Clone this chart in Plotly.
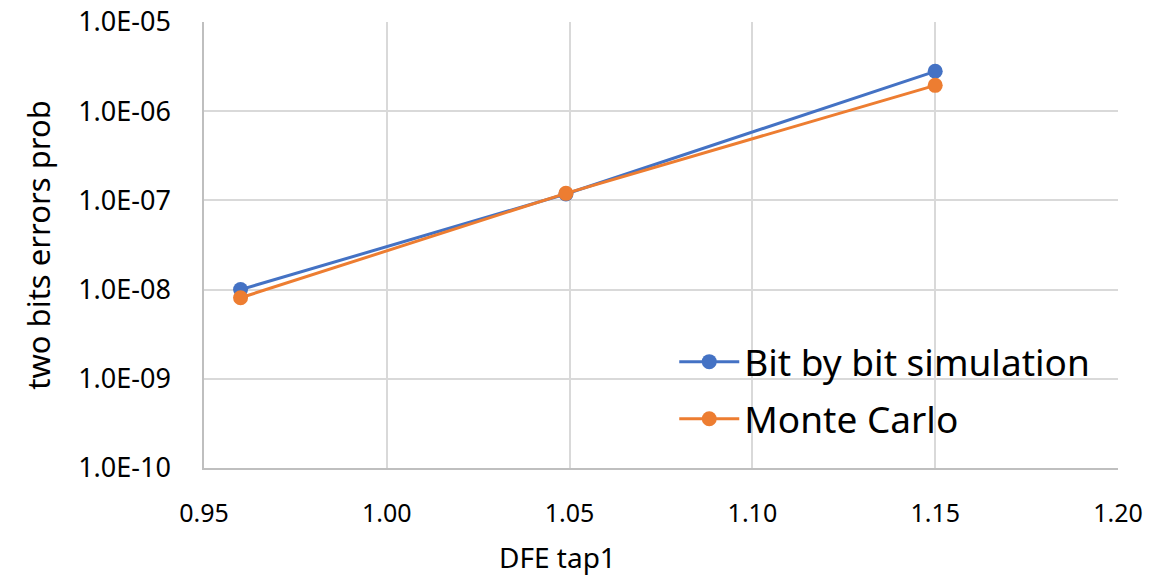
import plotly.graph_objects as go

x_vals = [0.96, 1.049, 1.15]
bit_by_bit = [1.0e-8, 1.18e-7, 2.8e-6]
monte_carlo = [8.1e-9, 1.2e-7, 1.95e-6]
series_names = ["Bit by bit simulation", "Monte Carlo"]
y_tickvals = [1e-10, 1e-9, 1e-8, 1e-7, 1e-6, 1e-5]
y_ticktext = ["1.0E-10", "1.0E-09", "1.0E-08", "1.0E-07", "1.0E-06", "1.0E-05"]
x_tickvals = [0.95, 1.00, 1.05, 1.10, 1.15, 1.20]
x_ticktext = ["0.95", "1.00", "1.05", "1.10", "1.15", "1.20"]

fig = go.Figure()
fig.add_trace(go.Scatter(x=x_vals, y=bit_by_bit, mode="lines+markers", name=series_names[0],
                         legendgroup="a",
                         line=dict(color="#4472C4", width=3), marker=dict(size=15, color="#4472C4")))
fig.add_trace(go.Scatter(x=x_vals, y=monte_carlo, mode="lines+markers", name=series_names[1],
                         legendgroup="b",
                         line=dict(color="#ED7D31", width=3), marker=dict(size=15, color="#ED7D31")))

font = "Noto Sans"
W, H = 1145, 568
L, R, T, B = 196, 35, 14, 108
fig.update_layout(
    width=W, height=H,
    margin=dict(l=L, r=R, t=T, b=B),
    paper_bgcolor="white", plot_bgcolor="white",
    font=dict(family=font, color="#000000", size=24),
    showlegend=True,
    legend=dict(x=0.5145, y=0.307, xanchor="left", yanchor="top",
                font=dict(size=37, family=font), bgcolor="rgba(0,0,0,0)",
                itemwidth=60, tracegroupgap=6),
    xaxis=dict(range=[0.95, 1.20], tickvals=x_tickvals, ticktext=x_ticktext,
               showgrid=True, gridcolor="#D9D9D9", gridwidth=1.5,
               showline=True, linecolor="#BFBFBF", linewidth=1.5,
               zeroline=False, ticks="", ticklen=0, automargin=False,
               ticklabelstandoff=22, ticklabeloverflow="allow",
               tickfont=dict(size=25, family=font)),
    yaxis=dict(type="log", range=[-10, -5], tickvals=y_tickvals, ticktext=y_ticktext,
               showgrid=True, gridcolor="#D9D9D9", gridwidth=1.5,
               showline=True, linecolor="#BFBFBF", linewidth=1.5,
               zeroline=False, ticks="", ticklen=0, automargin=False,
               ticklabelstandoff=26, ticklabeloverflow="allow",
               title=dict(text="two bits errors prob", font=dict(size=31, family=font), standoff=18),
               tickfont=dict(size=27, family=font)),
)
plot_h = H - T - B
fig.add_annotation(text="DFE tap1", xref="paper", yref="paper", x=(549 - L) / (W - L - R),
                   y=-(549 - (H - B)) / plot_h,
                   xanchor="center", yanchor="middle", showarrow=False,
                   font=dict(size=28, family=font))
fig.write_html("out.html")
